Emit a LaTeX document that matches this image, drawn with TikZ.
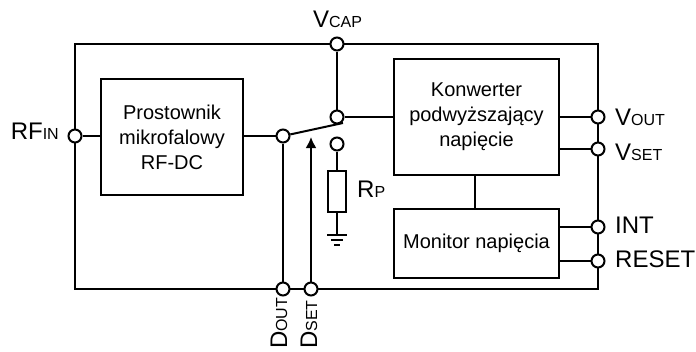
\documentclass[tikz,border=0pt]{standalone}
\usepackage{fontspec}
\setmainfont{Liberation Sans}
\usetikzlibrary{arrows.meta}

\newcommand{\bigsmall}[2]{{\fontsize{24}{24}\selectfont #1}{\fontsize{16}{16}\selectfont #2}}

\tikzset{
  blok/.style={draw, line width=2pt, align=center, inner sep=0pt,
    font=\fontsize{20}{25}\selectfont},
  pin/.style={draw, circle, fill=white, line width=2pt, inner sep=0pt, minimum size=13pt},
  wire/.style={line width=2pt},
  etykieta/.style={inner sep=0pt, font=\fontsize{24}{24}\selectfont}
}

\begin{document}
\begin{tikzpicture}[x=1pt,y=-1pt]
  \useasboundingbox (0,0) rectangle (696,351);

  % obudowa i bloki
  \node[blok, minimum width=523pt, minimum height=245pt] (chip) at (336.5,166.5) {};
  \node[blok, minimum width=142pt, minimum height=116pt] (prost) at (172,137) {Prostownik\\mikrofalowy\\RF-DC};
  \node[blok, minimum width=165pt, minimum height=116pt] (konw) at (476.5,117) {Konwerter\\podwyższający\\napięcie};
  \node[blok, minimum width=165pt, minimum height=69pt] (monitor) at (476.5,243.5) {Monitor napięcia};
  \node[blok, minimum width=18pt, minimum height=41pt] (rp) at (337,191.5) {};

  % wyprowadzenia
  \node[pin] (rfin) at (75,136) {};
  \node[pin] (vcap) at (337,44) {};
  \node[pin] (vout) at (598,117) {};
  \node[pin] (vset) at (598,149) {};
  \node[pin] (int) at (598,227) {};
  \node[pin] (reset) at (598,261) {};
  \node[pin] (dout) at (283,289) {};
  \node[pin] (dset) at (311,289) {};

  % przelacznik
  \node[pin] (wspolny) at (283,136) {};
  \node[pin] (styk) at (337,117) {};
  \node[pin] (stykp) at (337,144) {};
  \coordinate (dzwignia) at (343,123);
  \coordinate (strzalka) at (311,137);
  \coordinate (masa) at (337,235);

  \draw[wire] (rfin) -- (rfin -| prost.west);
  \draw[wire] (wspolny -| prost.east) -- (wspolny);
  \draw[wire] (wspolny) -- (dout);
  \draw[wire] (wspolny) -- (dzwignia);
  \draw[wire, -{Latex[length=11pt,width=11pt]}] (dset) -- (strzalka);
  \draw[wire] (vcap) -- (styk);
  \draw[wire] (styk) -- (styk -| konw.west);
  \draw[wire] (stykp) -- (rp);
  \draw[wire] (rp) -- (masa);
  \draw[wire] ([xshift=-2pt]konw.south) -- ([xshift=-2pt]monitor.north);
  \draw[wire] (vout -| konw.east) -- (vout);
  \draw[wire] (vset -| konw.east) -- (vset);
  \draw[wire] (int -| monitor.east) -- (int);
  \draw[wire] (reset -| monitor.east) -- (reset);

  % masa
  \draw[wire] ([xshift=-10pt]masa) -- ([xshift=10pt]masa);
  \draw[wire] ([xshift=-6pt,yshift=-5pt]masa) -- ([xshift=6pt,yshift=-5pt]masa);
  \draw[wire] ([xshift=-3pt,yshift=-10pt]masa) -- ([xshift=3pt,yshift=-10pt]masa);

  % opisy
  \node[etykieta, anchor=base] (lvcap) at (337.5,27) {\bigsmall{V}{CAP}};
  \node[etykieta, anchor=base east] (lrfin) at (59,139.5) {\bigsmall{RF}{IN}};
  \node[etykieta, anchor=base west] (lrp) at (357,197) {\bigsmall{R}{P}};
  \node[etykieta, anchor=base west] (lvout) at (615,125) {\bigsmall{V}{OUT}};
  \node[etykieta, anchor=base west] (lvset) at (615,160) {\bigsmall{V}{SET}};
  \node[etykieta, anchor=base west] (lint) at (615,233) {INT};
  \node[etykieta, anchor=base west] (lreset) at (615,267) {RESET};
  \node[etykieta, anchor=base west, rotate=90] (ldout) at (287,349) {\bigsmall{D}{OUT}};
  \node[etykieta, anchor=base west, rotate=90] (ldset) at (317,349) {\bigsmall{D}{SET}};
\end{tikzpicture}
\end{document}
